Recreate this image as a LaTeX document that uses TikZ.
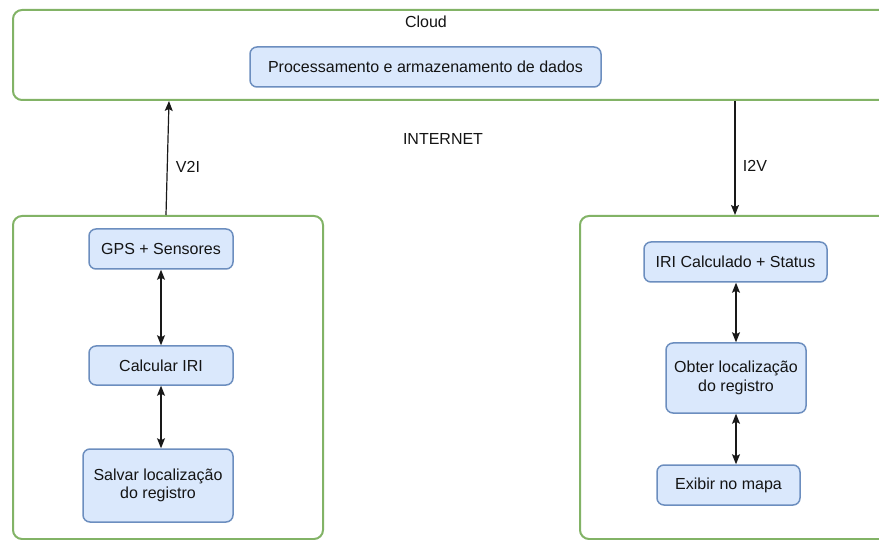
\documentclass[tikz,border=0pt]{standalone}
\usepackage{fontspec}
\setmainfont{Liberation Sans}
\usetikzlibrary{arrows.meta}
\definecolor{boxgreen}{HTML}{82B366}
\definecolor{boxblue}{HTML}{DAE8FC}
\definecolor{boxedge}{HTML}{6C8EBF}
\begin{document}
\begin{tikzpicture}[x=1pt, y=-1pt,
    container/.style={draw=boxgreen, line width=2pt, fill=white, rounded corners=9pt,
        minimum width=310pt, minimum height=323pt, inner sep=0pt},
    task/.style={draw=boxedge, line width=1.5pt, fill=boxblue, rounded corners=7pt,
        align=center, inner sep=0pt, text=black!92, font=\fontsize{16}{18.5}\selectfont},
    txt/.style={text=black!92, inner sep=0pt, font=\fontsize{16}{18.5}\selectfont},
    link/.style={draw=black!90, line width=1.2pt, -{Stealth[length=10pt, width=8pt, inset=2pt]}},
    twoway/.style={link, {Stealth[length=10pt, width=8pt, inset=2pt]}-{Stealth[length=10pt, width=8pt, inset=2pt]}}
]

% frame
\useasboundingbox (0, 0) rectangle (879, 540);
\clip (0, 0) rectangle (879, 540);


% cloud
\node [container, minimum width=877pt, minimum height=90pt] (cloud) at (451.5, 55) {};
\node [txt] (cloudlbl) at (426, 22) {Cloud};
\node [task, minimum width=351pt, minimum height=40pt] (proc) at (425.5, 67)
    {Processamento e armazenamento de dados};
\node [txt] (net) at (443, 139) {INTERNET};


% vehicle side
\node [container] (car) at (168, 377.5) {};
\begin{scope}
    \node [task, minimum width=144pt, minimum height=40pt] (gps) at (161, 249) {GPS + Sensores};
    \node [task, minimum width=144pt, minimum height=39pt] (calc) at (161, 365.5) {Calcular IRI};
    \node [task, minimum width=150pt, minimum height=73pt] (salvar) at (158, 485.5)
        {Salvar localização\\do registro};
\end{scope}


% app side
\node [container] (app) at (735, 377.5) {};
\begin{scope}
    \node [task, minimum width=183pt, minimum height=40pt] (iri) at (735.5, 262) {IRI Calculado + Status};
    \node [task, minimum width=140pt, minimum height=70pt] (obter) at (736, 378)
        {Obter localização\\do registro};
    \node [task, minimum width=143pt, minimum height=40pt] (exibir) at (728.5, 485) {Exibir no mapa};
\end{scope}


% links
\draw [link] ([xshift=-2pt]car.north) -- ([xshift=1pt]car.north |- cloud.south);
\node [txt] (v2i) at (188, 167) {V2I};
\draw [link] (app.north |- cloud.south) -- (app.north);
\node [txt] (i2v) at (755, 166) {I2V};

\begin{scope}
    \draw [twoway] (gps.south) -- (calc.north);
    \draw [twoway] (calc.south) -- (calc.south |- salvar.north);
    \draw [twoway] (obter.north |- iri.south) -- (obter.north);
    \draw [twoway] (obter.south) -- (obter.south |- exibir.north);
\end{scope}

\end{tikzpicture}
\end{document}
